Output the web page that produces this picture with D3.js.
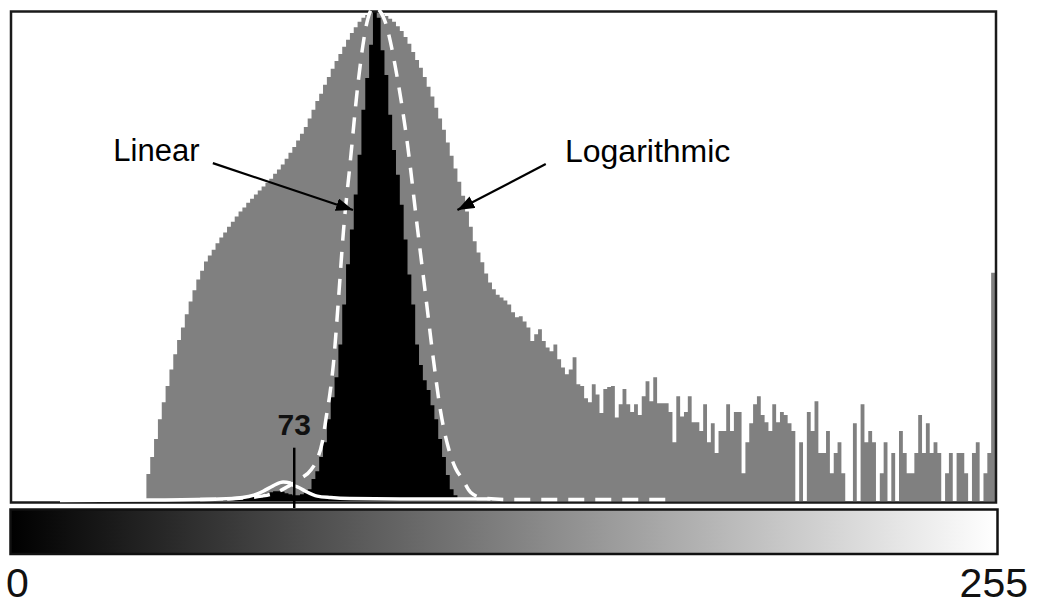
<!DOCTYPE html>
<html><head><meta charset="utf-8">
<script src="https://cdn.jsdelivr.net/npm/d3@7"></script>
<style>html,body{margin:0;padding:0;background:#fff;}svg{display:block;}</style>
</head><body>
<svg id="chart" width="1038" height="607"></svg>
<script>
// ---- DATA (bins 0..255) ----
// Logarithmic histogram, % of maximum (grey)
const logHist = [
 0,0,0,0,0,0,0,0,0,0, 0,0,0,0,0,0,0,0,0,0, 0,0,0,0,0,0,0,0,0,0, 0,0,0,0,0,
 5.5,9.0,12.7,16.7,20.2,23.5,26.9,30.0,32.9,35.5,
 38.2,40.8,43.1,45.3,47.1,49.0,50.2,51.4,52.7,53.9,
 54.9,56.1,57.1,58.2,59.2,60.0,61.0,61.8,62.7,63.5,
 64.3,65.1,65.9,66.9,67.8,68.8,70.0,71.2,72.4,73.7,
 75.1,76.5,78.2,80.0,81.8,83.3,85.1,86.7,88.4,90.0,
 91.4,92.9,94.3,95.7,96.9,98.0,98.8,99.4,99.8,100,
 100,99.6,99.2,98.6,98.0,97.1,96.1,94.9,93.5,91.8,
 90.2,88.6,86.7,84.7,82.7,80.4,78.2,75.9,73.3,70.6,
 68.0,65.3,62.4,59.2,56.1,53.1,50.8,48.8,46.5,44.7,
 43.3,42.2,41.6,41.0,40.2,38.6,37.6,37.8,36.7,35.5,
 32.7,34.1,35.1,32.7,31.4,30.6,32.0,29.0,27.3,25.9,
 26.9,29.4,23.9,23.5,21.0,20.2,23.9,21.8,18.0,22.9,
 23.3,23.5,17.1,19.8,22.9,19.8,18.2,19.8,17.6,21.4,
 24.5,20.4,25.3,20.0,20.0,20.0,18.2,12.0,21.4,17.3,
 18.2,21.4,16.1,16.1,14.3,19.8,12.0,15.9,9.8,14.3,
 14.3,19.8,14.3,18.2,18.2,5.7,12.0,15.9,19.8,21.4,
 17.6,16.1,14.3,19.8,16.1,18.2,17.6,15.9,14.3,0,
 12.0,0,18.2,14.3,20.4,9.8,9.8,14.3,5.7,9.8,
 12.0,5.7,0,0,15.9,0,19.8,12.0,14.3,12.0,
 0,5.7,12.0,0,9.8,0,14.3,9.8,5.7,5.7,
 9.8,17.6,9.8,15.9,9.8,12.0,9.8,0,5.7,9.8,
 0,9.8,9.8,5.7,0,9.8,12.0,0,5.7,9.8,46.7
];
// Linear histogram, % of maximum (black)
const linHist = [
 0,0,0,0,0,0,0,0,0,0, 0,0,0,0,0,0,0,0,0,0, 0,0,0,0,0,0,0,0,0,0,
 0,0,0,0,0,0,0,0,0,0, 0,0,0,0,0,0,0,0,0,0, 0,0,0,0,0,
 0.2,0.2,0.3,0.3,0.4,0.5,0.6,0.8,1.0,1.2,
 1.4,1.6,1.8,2.0,2.0,1.9,1.6,1.4,1.2,1.2,
 1.4,1.8,2.4,4.5,6.1,9.0,12.0,16.7,21.2,25.3,
 32.0,40.2,48.4,55.5,62.7,70.8,80.0,86.5,93.3,100,
 98.8,92.2,87.1,79.0,71.8,66.7,60.6,53.5,46.3,40.2,
 32.0,27.8,24.7,22.7,19.6,16.7,12.7,9.0,5.3,2.4,
 1.2,0.6,0.4,0.3,0.2,0.2,0.1,0.1,0.1,0.1
];
while (linHist.length < 256) linHist.push(0);
// dashed white curve (position in bins, % value)
const dashPos = [49,55,60,65,69,71.7,75,78,79.5,80.8,81.8,82.8,83.7,85,86.3,88.1,90.2,92.8,94.3,96.7,100.4,103,105.6,107.7,109.8,111.6,113.4,115.5,117.3,119.4,122.8,130,171];
const dashVal = [0.3,0.4,0.6,1.0,1.8,2.9,4.5,6.5,8.6,12,17,22,28,41,55,69.4,86,99,101,99,86.3,72.9,55.7,42.2,28.6,18.4,11.6,6.7,4.5,1.8,0.6,0.3,0.3];
// solid white curve
const solidPos = [12.5,36,54,60,63,65.4,68,70.6,72.4,73.5,74.3,76.4,79.5,83,88,101,124.6];
const solidVal = [0.1,0.2,0.4,0.7,1.2,2.0,3.1,3.9,3.7,3.1,2.9,2.0,1.0,0.7,0.5,0.4,0.4];
const markerBin = 73;
const axisLabels = ["0", "255"];
const annotations = [
  {text:"Linear", tx:26.4, ty:69.5, fx:52.3, fy:69.1, ax:88.8, ay:59.5, size:31},
  {text:"Logarithmic", tx:144.0, ty:69.3, fx:139.0, fy:68.9, ax:116.0, ay:59.5, size:32}
];

// ---- CHART ----
const svg = d3.select("#chart");
const font = "'Liberation Sans', Arial, Helvetica, sans-serif";
const x = d3.scaleLinear().domain([0, 256]).range([12, 995]);
const y = d3.scaleLinear().domain([0, 100]).range([501, 12]);

const defs = svg.append("defs");
const grad = defs.append("linearGradient").attr("id","g").attr("x1","0").attr("x2","1").attr("y1","0").attr("y2","0");
grad.append("stop").attr("offset","0").attr("stop-color","#000");
grad.append("stop").attr("offset","1").attr("stop-color","#fff");
defs.append("marker").attr("id","arr").attr("markerUnits","userSpaceOnUse")
  .attr("markerWidth",18).attr("markerHeight",14).attr("refX",17).attr("refY",6.5)
  .attr("orient","auto")
  .append("path").attr("d","M0,0 L17,6.5 L0,13 Z").attr("fill","#000");

function stepData(arr){ const d = arr.map((v,i)=>({i, v})); d.push({i:arr.length, v:arr[arr.length-1]}); return d; }
const area = d3.area().x(d=>x(d.i)).y0(y(0)).y1(d=>y(d.v)).curve(d3.curveStepAfter);

svg.append("path").datum(stepData(logHist)).attr("d", area).attr("fill", "#808080");
svg.append("path").datum(stepData(linHist)).attr("d", area).attr("fill", "#000");

// frame
svg.append("rect").attr("x", 11).attr("y", 11.5).attr("width", 985).attr("height", 491)
  .attr("fill","none").attr("stroke","#1a1a1a").attr("stroke-width",2.5);

const line = d3.line().x(d=>x(d[0])).y(d=>y(d[1])).curve(d3.curveMonotoneX);
svg.append("path").datum(solidPos.map((p,i)=>[p, solidVal[i]])).attr("d", line)
  .attr("fill","none").attr("stroke","#fff").attr("stroke-width",3.5);
svg.append("path").datum(dashPos.map((p,i)=>[p, dashVal[i]])).attr("d", line)
  .attr("fill","none").attr("stroke","#fff").attr("stroke-width",3.5).attr("stroke-dasharray","16,11");

// gradient bar
svg.append("rect").attr("x", 10.5).attr("y", 509.5).attr("width", 987).attr("height", 44.5)
  .attr("fill","url(#g)").attr("stroke","#111").attr("stroke-width",2.5);

// marker 73
const mx = x(markerBin + 0.5);
svg.append("line").attr("x1", mx).attr("x2", mx).attr("y1", y(10.9)).attr("y2", y(0) + 7)
  .attr("stroke","#000").attr("stroke-width",2.5);
svg.append("text").attr("x", mx).attr("y", 434.5).attr("text-anchor","middle")
  .attr("font-family", font).attr("font-weight","bold").attr("font-size",30).attr("fill","#111")
  .text(String(markerBin));

// annotations
annotations.forEach(a=>{
  svg.append("text").attr("x", x(a.tx)).attr("y", y(a.ty)).attr("font-family", font)
    .attr("font-size", a.size).attr("fill","#000").text(a.text);
  svg.append("line").attr("x1", x(a.fx)).attr("y1", y(a.fy)).attr("x2", x(a.ax)).attr("y2", y(a.ay))
    .attr("stroke","#000").attr("stroke-width",2.2).attr("marker-end","url(#arr)");
});

// axis end labels
svg.append("text").attr("x", 6).attr("y", 597).attr("font-family", font).attr("font-size", 41)
  .attr("fill","#111").text(axisLabels[0]);
svg.append("text").attr("x", 1028).attr("y", 597).attr("text-anchor","end").attr("font-family", font)
  .attr("font-size", 41).attr("fill","#111").text(axisLabels[1]);
</script>
</body></html>
